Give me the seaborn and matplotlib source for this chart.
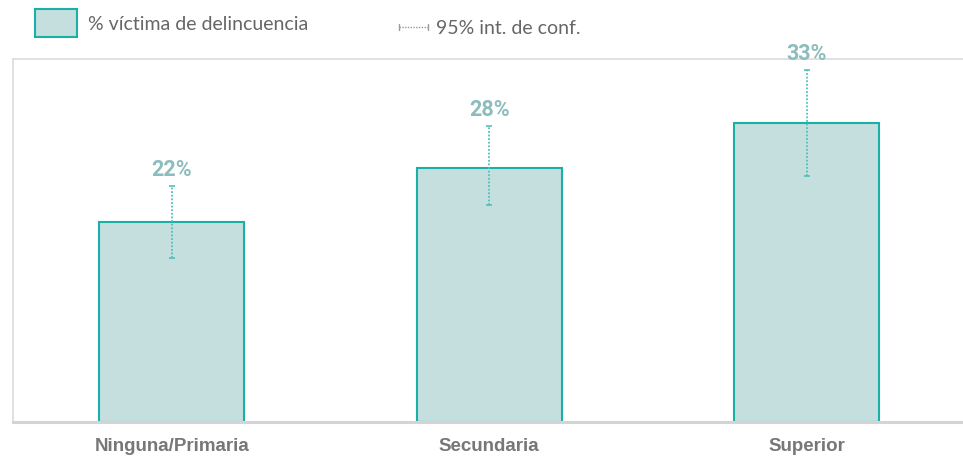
import matplotlib
matplotlib.use("Agg")
import matplotlib.pyplot as plt
from matplotlib.patches import Rectangle
from matplotlib.lines import Line2D
import seaborn as sns
import pandas as pd
import numpy as np

# Victimisation rate by education level, with 95% confidence interval bounds
categories = ["Ninguna/Primaria", "Secundaria", "Superior"]
values = [22, 28, 33]
ci_low = [18.1, 23.9, 27.1]
ci_high = [26.0, 32.7, 38.8]
value_labels = ["22%", "28%", "33%"]

legend_bar = "% víctima de delincuencia"
legend_ci = "95% int. de conf."

fill_color = "#c5dfdf"
edge_color = "#1ab0a8"
ci_color = "#4fc1b9"
label_color = "#8dbcbc"
frame_color = "#dcdcdc"

sns.set_theme(style="white")
plt.rcParams["font.family"] = ["Liberation Sans", "DejaVu Sans"]

W, H = 963, 457
fig = plt.figure(figsize=(W / 100, H / 100), dpi=100)
ax = fig.add_axes([13 / W, 35.5 / H, 952.5 / W, 362 / H])

df = pd.DataFrame({"nivel": categories, "pct": values})
sns.barplot(data=df, x="nivel", y="pct", ax=ax, width=0.457,
            color=fill_color, edgecolor=edge_color, linewidth=1.5,
            saturation=1, errorbar=None)

x = np.arange(len(categories))
vals = np.array(values)
yerr = np.vstack([vals - np.array(ci_low), np.array(ci_high) - vals])
eb = ax.errorbar(x, vals, yerr=yerr, fmt="none", ecolor=ci_color,
                 elinewidth=1.3, capsize=2.5, capthick=1.2, zorder=5)
for lc in eb[2]:
    lc.set_linestyle((0, (1, 1)))

for xi, hi, txt in zip(x, ci_high, value_labels):
    ax.annotate(txt, (xi, hi), xytext=(0, 5), textcoords="offset pixels",
                ha="center", va="bottom", fontsize=15.5, fontweight="bold",
                color=label_color, family=["Roboto", "DejaVu Sans"])

ax.set_xlim(-0.5, 2.5)
ax.set_ylim(0, 40)
ax.set_xlabel("")
ax.set_ylabel("")
ax.set_yticks([])
ax.tick_params(axis="x", length=0, pad=12)
for lab in ax.get_xticklabels():
    lab.set_fontsize(13.5)
    lab.set_fontweight("bold")
    lab.set_color("#777777")

for side in ("top", "left"):
    ax.spines[side].set_color(frame_color)
    ax.spines[side].set_linewidth(1.2)
ax.spines["bottom"].set_color("#d4d4d4")
ax.spines["bottom"].set_linewidth(2.2)
ax.spines["right"].set_visible(False)

# Legend drawn in figure pixel space
def fy(py):
    return 1 - py / H

fig.patches.append(Rectangle((35 / W, fy(37)), 42 / W, 28 / H,
                             transform=fig.transFigure, facecolor=fill_color,
                             edgecolor=edge_color, linewidth=1.5))
fig.text(88 / W, fy(24), legend_bar, ha="left", va="center", fontsize=14,
         color="#666666", family=["Lato", "DejaVu Sans"])

ly = fy(27)
fig.lines.append(Line2D([399 / W, 428 / W], [ly, ly], transform=fig.transFigure,
                        color="#9a9a9a", linewidth=1, linestyle=(0, (1, 1))))
for cx in (399, 428):
    fig.lines.append(Line2D([cx / W, cx / W], [ly - 3 / H, ly + 3 / H],
                            transform=fig.transFigure, color="#9a9a9a",
                            linewidth=1))
fig.text(436 / W, fy(28), legend_ci, ha="left", va="center", fontsize=14,
         color="#666666", family=["Lato", "DejaVu Sans"])

fig.savefig("out.png", dpi=100)
